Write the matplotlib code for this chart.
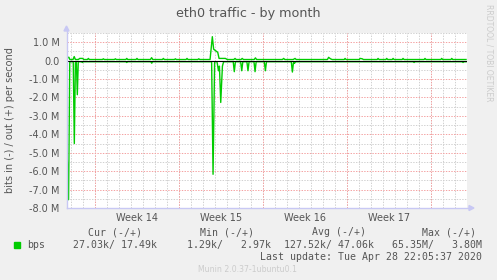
import matplotlib
matplotlib.use("Agg")
import matplotlib.pyplot as plt
from matplotlib.lines import Line2D
from matplotlib.patches import Rectangle, Polygon

W, H = 497, 280

# time in days from start of graph, traffic in Mbit/s (out positive, in negative)
out_pts = [
    (0.00, 0.06), (0.08, 0.18), (0.16, 0.18), (0.24, 0.06),
    (0.50, 0.06), (0.60, 0.22), (0.70, 0.06),
    (0.95, 0.06), (1.05, 0.12), (1.30, 0.12), (1.40, 0.06),
    (1.70, 0.06), (1.78, 0.12), (1.86, 0.06),
    (2.95, 0.06), (3.03, 0.10), (3.11, 0.06),
    (3.95, 0.06), (4.03, 0.10), (4.11, 0.06),
    (4.90, 0.06), (4.98, 0.12), (5.06, 0.06),
    (5.75, 0.06), (5.83, 0.12), (5.91, 0.06),
    (6.95, 0.06), (7.05, 0.16), (7.15, 0.06),
    (7.95, 0.06), (8.03, 0.12), (8.11, 0.06),
    (8.95, 0.06), (9.03, 0.10), (9.11, 0.06),
    (9.92, 0.06), (10.00, 0.12), (10.08, 0.06),
    (10.90, 0.06), (10.98, 0.10), (11.06, 0.06),
    (11.92, 0.06), (12.11, 1.30), (12.22, 0.62), (12.42, 0.52),
    (12.56, 0.45), (12.67, 0.12), (13.20, 0.12), (13.35, 0.06),
    (13.90, 0.06), (14.00, 0.12), (14.10, 0.06),
    (14.50, 0.06), (14.60, 0.12), (14.70, 0.06),
    (15.60, 0.06), (15.70, 0.15), (15.80, 0.06),
    (17.95, 0.06), (18.05, 0.12), (18.15, 0.06),
    (18.85, 0.06), (19.00, 0.12), (19.10, 0.06),
    (21.70, 0.06), (21.80, 0.18), (21.95, 0.10), (22.10, 0.06),
    (23.10, 0.06), (23.17, 0.12), (23.25, 0.06),
    (24.35, 0.06), (24.42, 0.12), (24.60, 0.10), (24.70, 0.06),
    (25.85, 0.06), (25.92, 0.12), (26.00, 0.06),
    (26.57, 0.06), (26.64, 0.12), (26.72, 0.06),
    (27.10, 0.06), (27.17, 0.12), (27.25, 0.06),
    (27.93, 0.06), (28.00, 0.12), (28.08, 0.06),
    (29.76, 0.06), (29.83, 0.12), (29.91, 0.06),
    (31.15, 0.06), (31.22, 0.12), (31.30, 0.06),
    (31.99, 0.06), (32.06, 0.12), (32.14, 0.06),
    (33.25, 0.06),
]

in_pts = [
    (0.00, -4.80), (0.13, -7.55), (0.23, -0.06),
    (0.52, -0.06), (0.61, -4.50), (0.70, -0.06),
    (0.78, -0.06), (0.86, -1.85), (0.94, -0.06),
    (1.20, -0.06), (1.28, -0.10), (1.36, -0.06),
    (4.90, -0.06), (4.98, -0.10), (5.06, -0.06),
    (6.98, -0.06), (7.06, -0.14), (7.14, -0.06),
    (12.05, -0.06), (12.17, -6.17), (12.30, -0.06),
    (12.50, -0.06), (12.62, -0.55), (12.70, -0.30), (12.81, -2.27),
    (12.95, -0.30), (13.05, -0.06),
    (13.85, -0.06), (13.94, -0.60), (14.03, -0.06),
    (14.47, -0.06), (14.56, -0.55), (14.65, -0.06),
    (14.99, -0.06), (15.08, -0.55), (15.17, -0.06),
    (15.58, -0.06), (15.67, -0.60), (15.76, -0.06),
    (16.44, -0.06), (16.53, -0.55), (16.62, -0.06),
    (18.69, -0.06), (18.78, -0.62), (18.87, -0.10), (18.95, -0.15), (19.05, -0.06),
    (28.84, -0.06), (28.92, -0.10), (29.00, -0.06),
    (32.92, -0.06), (33.00, -0.10), (33.08, -0.06),
    (33.25, -0.06),
]

yticks = [1, 0, -1, -2, -3, -4, -5, -6, -7, -8]
ytick_labels = ["1.0 M", "0.0", "-1.0 M", "-2.0 M", "-3.0 M", "-4.0 M",
                "-5.0 M", "-6.0 M", "-7.0 M", "-8.0 M"]
week_names = ["Week 14", "Week 15", "Week 16", "Week 17"]
week_bounds = [2.33, 9.33, 16.33, 23.33, 30.33]

legend_heads = ["Cur (-/+)", "Min (-/+)", "Avg (-/+)", "Max (-/+)"]
legend_vals = ["27.03k/ 17.49k", "1.29k/   2.97k", "127.52k/ 47.06k", "65.35M/   3.80M"]

GREEN = "#00cc00"
TXT = "#555555"
BG = "#f0f0f0"


def fx(x):
    return x / W


def fy(y):
    return 1 - y / H


fig = plt.figure(figsize=(W / 100, H / 100), dpi=100, facecolor=BG)
ax = fig.add_axes([fx(67), fy(208), 400 / W, 175 / H])
ax.set_facecolor("white")
ax.set_xlim(0, 33.33)
ax.set_ylim(-8, 1.5)
for s in ax.spines.values():
    s.set_visible(False)

# grid
for d in range(34):
    ax.axvline(0.33 + d, color="#d0d0d0", lw=0.7, ls=(0, (1.4, 1.4)), zorder=1)
for wb in week_bounds:
    ax.axvline(wb, color="#f4a0a0", lw=0.7, ls=(0, (1.4, 1.4)), zorder=1.5)
for yv in [1.5, 0.5, -0.5, -1.5, -2.5, -3.5, -4.5, -5.5, -6.5, -7.5]:
    ax.axhline(yv, color="#d0d0d0", lw=0.7, ls=(0, (1.4, 1.4)), zorder=1)
for yv in yticks:
    ax.axhline(yv, color="#f4a0a0", lw=0.7, ls=(0, (1.4, 1.4)), zorder=1.5)

ax.plot([p[0] for p in out_pts], [p[1] for p in out_pts], color=GREEN, lw=1, zorder=3)
ax.plot([p[0] for p in in_pts], [p[1] for p in in_pts], color=GREEN, lw=1, zorder=3)
ax.plot([0, 33.25], [0, 0], color="black", lw=0.8, zorder=4)

ax.set_yticks(yticks)
ax.set_yticklabels(ytick_labels)
ax.tick_params(axis="y", length=0, pad=5.4, labelsize=7, labelcolor=TXT)
ax.set_xticks([])

for i, name in enumerate(week_names):
    mid = (week_bounds[i] + week_bounds[i + 1]) / 2
    ax.text(mid, -(217.7 - 208) / 175, name, transform=ax.get_xaxis_transform(),
            ha="center", va="center", fontsize=7, color=TXT)

# axis arrows
AX = "#c8c8f4"
fig.add_artist(Line2D([fx(66.5), fx(66.5)], [fy(208), fy(31)], color=AX, lw=1))
fig.add_artist(Line2D([fx(67), fx(469)], [fy(208), fy(208)], color=AX, lw=1))
fig.add_artist(Polygon([[fx(64), fy(31)], [fx(69), fy(31)], [fx(66.5), fy(26)]],
                       closed=True, color=AX, transform=fig.transFigure))
fig.add_artist(Polygon([[fx(469), fy(205.5)], [fx(469), fy(210.5)], [fx(474), fy(208)]],
                       closed=True, color=AX, transform=fig.transFigure))

fig.text(fx(248), fy(13.5), "eth0 traffic - by month", ha="center", va="center",
         fontsize=9.2, color=TXT)
fig.text(fx(10.5), fy(120), "bits in (-) / out (+) per second", rotation=90,
         ha="center", va="center", fontsize=7, color=TXT)
fig.text(fx(488.5), fy(4), "RRDTOOL / TOBI OETIKER", rotation=270,
         ha="center", va="top", fontsize=5.5, color="#cccccc")

# legend
head_x = [115.5, 227.5, 338.5, 449.5]
val_right = [157.3, 271.4, 374.0, 482.3]
for hx, head in zip(head_x, legend_heads):
    fig.text(fx(hx), fy(232.3), head, ha="center", va="center", fontsize=7.1,
             family="DejaVu Sans Mono", color=TXT)
fig.add_artist(Rectangle((fx(14), fy(247.7)), 6 / W, 5.4 / H, color=GREEN,
                         transform=fig.transFigure))
fig.text(fx(26.7), fy(245), "bps", ha="left", va="center", fontsize=7.1,
         family="DejaVu Sans Mono", color=TXT)
for vr, val in zip(val_right, legend_vals):
    fig.text(fx(vr), fy(245), val, ha="right", va="center", fontsize=7.1,
             family="DejaVu Sans Mono", color=TXT)
fig.text(fx(482.3), fy(256.8), "Last update: Tue Apr 28 22:05:37 2020", ha="right",
         va="center", fontsize=7.1, family="DejaVu Sans Mono", color=TXT)
fig.text(fx(248), fy(269.5), "Munin 2.0.37-1ubuntu0.1", ha="center", va="center",
         fontsize=5.6, color="#cccccc")

fig.savefig("out.png", dpi=100, facecolor=BG)
